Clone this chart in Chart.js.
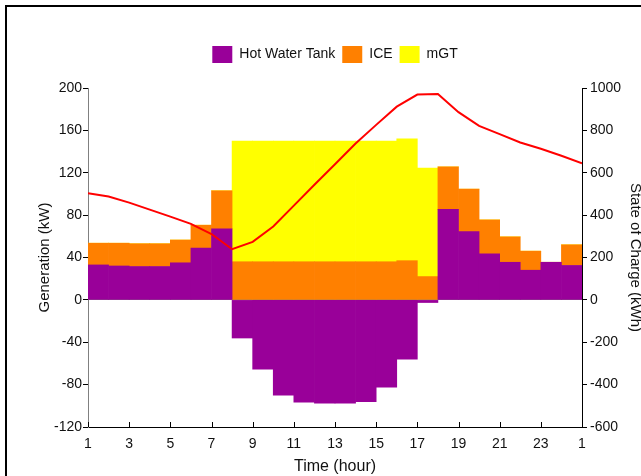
<!DOCTYPE html>
<html>
<head>
<meta charset="utf-8">
<script src="https://cdn.jsdelivr.net/npm/chart.js@4"></script>
<style>
  html, body { margin: 0; padding: 0; background: #fff; overflow: hidden; }
  #wrap { position: relative; width: 641px; height: 476px; overflow: hidden; }
  #frame { position: absolute; left: 5px; top: 5px; width: 700px; height: 500px;
           border-top: 2px solid #000; border-left: 2px solid #000; pointer-events: none; }
  canvas { position: absolute; left: 0; top: 0; }
</style>
</head>
<body>
<div id="wrap">
  <canvas id="chart" width="650" height="476"></canvas>
  <div id="frame"></div>
</div>
<script>
// hours of the day (each step spans hour h .. h+1)
const hours = [1, 2, 3, 4, 5, 6, 7, 8, 9, 10, 11, 12, 13, 14, 15, 16, 17, 18, 19, 20, 21, 22, 23, 24];
const hotWaterTank = [33, 32, 31.5, 31.5, 35, 49, 67, -36, -65.5, -90, -96.5, -97.5, -97.5, -96, -82.5, -56, -2.5, 85.5, 64.5, 43.5, 35.5, 28, 35.5, 32.5];
const ice = [20.5, 21.5, 21.5, 21.5, 21.5, 21.5, 36, 36, 36, 36, 36, 36, 36, 36, 36, 37, 22, 40, 40, 32, 24, 18, 0, 19.5];
const mgt = [0, 0, 0, 0, 0, 0, 0, 114, 114, 114, 114, 114, 114, 114, 114, 115, 102.5, 0, 0, 0, 0, 0, 0, 0];

// state of charge at each hour boundary
const socHours = [1, 2, 3, 4, 5, 6, 7, 8, 9, 10, 11, 12, 13, 14, 15, 16, 17, 18, 19, 20, 21, 22, 23, 24, 25];
const soc = [503, 488, 459, 426, 393, 359, 311, 239, 274, 346, 445, 543, 640, 738, 826, 912, 969, 972, 886, 821, 782, 743, 713, 680, 645];

const xTickLabels = ['1', '3', '5', '7', '9', '11', '13', '15', '17', '19', '21', '23', '1'];

const FONT = "'Liberation Sans', Arial, sans-serif";
const TEXT = '#111';

function steps(values) {
  return hours.map((h, i) => ({ x: h + 0.5, y: values[i] }));
}

function barSet(label, values, color) {
  return {
    type: 'bar',
    label: label,
    data: steps(values),
    backgroundColor: color,
    borderWidth: 0,
    barPercentage: 1,
    categoryPercentage: 1,
    yAxisID: 'y',
    order: 2
  };
}

// x axis ticks point into the plot
const innerTicks = {
  id: 'innerTicks',
  afterDraw(chart) {
    const xs = chart.scales.x;
    const c = chart.ctx;
    c.save();
    c.strokeStyle = '#000';
    c.lineWidth = 1;
    xs.ticks.forEach(t => {
      const px = Math.round(xs.getPixelForValue(t.value)) + 0.5;
      c.beginPath();
      c.moveTo(px, xs.top);
      c.lineTo(px, xs.top - 5);
      c.stroke();
    });
    c.restore();
  }
};

// extra room under the legend
const legendSpace = {
  id: 'legendSpace',
  beforeInit(chart) {
    const lg = chart.legend;
    const fit = lg.fit;
    lg.fit = function () {
      fit.call(this);
      this.height += 15;
    };
  }
};

new Chart(document.getElementById('chart'), {
  type: 'bar',
  data: {
    datasets: [
      barSet('Hot Water Tank', hotWaterTank, '#990099'),
      barSet('ICE', ice, '#FF8000'),
      barSet('mGT', mgt, '#FFFF00'),
      {
        type: 'line',
        label: 'SOC',
        data: socHours.map((h, i) => ({ x: h, y: soc[i] })),
        borderColor: '#FF0000',
        borderWidth: 2,
        pointRadius: 0,
        tension: 0,
        fill: false,
        yAxisID: 'y1',
        order: 1
      }
    ]
  },
  options: {
    responsive: false,
    animation: false,
    devicePixelRatio: 1,
    layout: { padding: { top: 39, left: 0, right: 0, bottom: 0 } },
    plugins: {
      tooltip: { enabled: false },
      legend: {
        position: 'top',
        fullSize: false,
        labels: {
          boxWidth: 20,
          boxHeight: 17,
          padding: 7,
          color: TEXT,
          font: { family: FONT, size: 14 },
          filter: item => item.datasetIndex < 3
        }
      }
    },
    scales: {
      x: {
        type: 'linear',
        min: 1,
        max: 25,
        offset: false,
        stacked: true,
        afterFit: s => { s.height = 49; },
        border: { color: '#000', width: 1 },
        grid: { display: false, drawTicks: false, offset: false },
        ticks: {
          stepSize: 2,
          padding: 9,
          color: TEXT,
          font: { family: FONT, size: 14 },
          maxRotation: 0,
          callback: v => xTickLabels[(v - 1) / 2]
        },
        title: {
          display: true,
          text: 'Time (hour)',
          color: TEXT,
          font: { family: FONT, size: 16 },
          padding: { top: 0, bottom: 0 }
        }
      },
      y: {
        position: 'left',
        min: -120,
        max: 200,
        stacked: true,
        afterFit: s => { s.width = 88; },
        border: { color: '#808080', width: 1 },
        grid: {
          drawOnChartArea: true,
          color: c => (c.tick && c.tick.value === 0 ? '#808080' : 'rgba(0,0,0,0)'),
          tickColor: '#000',
          tickLength: 5
        },
        ticks: {
          stepSize: 40,
          padding: 1,
          color: TEXT,
          font: { family: FONT, size: 14 },
          callback: v => String(v)
        },
        title: {
          display: true,
          text: 'Generation (kW)',
          color: TEXT,
          font: { family: FONT, size: 15 },
          padding: { top: 36, bottom: 0 }
        }
      },
      y1: {
        position: 'right',
        min: -600,
        max: 1000,
        afterFit: s => { s.width = 68; },
        border: { color: '#000', width: 1 },
        grid: { drawOnChartArea: false, tickColor: '#000', tickLength: 5 },
        ticks: {
          stepSize: 200,
          padding: 3,
          color: TEXT,
          font: { family: FONT, size: 14 },
          callback: v => String(v)
        },
        title: {
          display: true,
          text: 'State of Charge (kWh)',
          color: TEXT,
          font: { family: FONT, size: 15 },
          padding: { top: 6, bottom: 0 }
        }
      }
    }
  },
  plugins: [innerTicks, legendSpace]
});
</script>
</body>
</html>
